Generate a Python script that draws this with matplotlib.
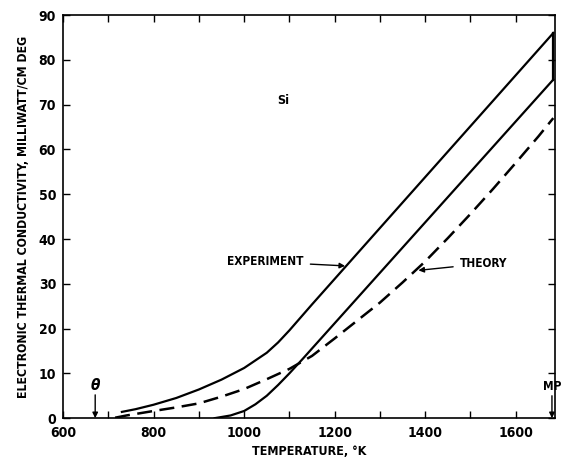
import numpy as np
import matplotlib.pyplot as plt

# Si electronic thermal conductivity (milliwatt/cm deg) vs temperature (K)
exp_upper_T = [730, 760, 800, 850, 900, 950, 1000, 1050, 1075, 1100, 1125, 1150, 1683]
exp_upper_k = [1.4, 2.0, 3.0, 4.5, 6.4, 8.6, 11.2, 14.6, 16.9, 19.6, 22.5, 25.4, 86.0]

exp_lower_T = [935, 970, 1000, 1025, 1050, 1075, 1100, 1130, 1683]
exp_lower_k = [0.0, 0.6, 1.6, 3.1, 5.0, 7.4, 10.0, 13.3, 75.6]

theory_T = [715, 740, 800, 850, 900, 950, 1000, 1050, 1100, 1150, 1200, 1250,
            1300, 1350, 1400, 1450, 1500, 1550, 1600, 1650, 1683]
theory_k = [0.1, 0.6, 1.6, 2.4, 3.3, 4.8, 6.5, 8.7, 11.0, 13.9, 17.8, 21.8,
            25.8, 30.3, 35.0, 40.2, 45.6, 51.2, 57.0, 62.9, 67.0]

theta_T = 671
mp_T = 1680

plt.rcParams['font.family'] = ['DejaVu Sans']
plt.rcParams['font.stretch'] = 'condensed'
plt.rcParams['font.weight'] = 'bold'

fig = plt.figure(figsize=(5.63, 4.57), dpi=100)
ax = fig.add_axes([0.112, 0.085, 0.874, 0.882])

ax.plot(exp_upper_T, exp_upper_k, color='black', lw=1.6)
ax.plot(exp_lower_T, exp_lower_k, color='black', lw=1.6)
ax.plot([exp_upper_T[-1], exp_lower_T[-1]], [exp_upper_k[-1], exp_lower_k[-1]],
        color='black', lw=1.6)
ax.plot(theory_T, theory_k, color='black', lw=1.8, dashes=(6, 3))

ax.set_xlim(600, 1687)
ax.set_ylim(0, 90)
ax.set_xticks(range(600, 1700, 200))
ax.set_xticks(range(700, 1700, 200), minor=True)
ax.set_yticks(range(0, 100, 10))
ax.tick_params(which='both', direction='in', top=True, right=True,
               length=5, width=1, labelsize=10)
ax.tick_params(axis='x', pad=6)
ax.tick_params(axis='y', pad=5)
for lab in ax.get_xticklabels() + ax.get_yticklabels():
    lab.set_fontweight('bold')
for s in ax.spines.values():
    s.set_linewidth(1.2)

ax.set_xlabel('TEMPERATURE, °K', fontsize=9, fontweight='bold', labelpad=3)
ax.set_ylabel('ELECTRONIC THERMAL CONDUCTIVITY, MILLIWATT/CM DEG',
              fontsize=8.8, fontweight='bold', labelpad=6)

ax.text(1086, 71, 'Si', fontsize=9, fontweight='bold', ha='center', va='center')

ax.annotate('EXPERIMENT', xy=(1223, 34.0), xytext=(962, 34.9),
            fontsize=8.5, fontweight='bold', va='center', ha='left',
            arrowprops=dict(arrowstyle='-|>', color='black', lw=1,
                            shrinkA=3, shrinkB=0, mutation_scale=8))
ax.annotate('THEORY', xy=(1385, 33.0), xytext=(1477, 34.5),
            fontsize=8.5, fontweight='bold', va='center', ha='left',
            arrowprops=dict(arrowstyle='-|>', color='black', lw=1,
                            shrinkA=3, shrinkB=0, mutation_scale=8))

ax.annotate('', xy=(theta_T, 0), xytext=(theta_T, 5.2),
            arrowprops=dict(arrowstyle='-|>', color='black', lw=1,
                            shrinkA=0, shrinkB=0, mutation_scale=8))
ax.text(theta_T, 7.3, r'$\theta$', fontsize=11, ha='center', va='center')

ax.annotate('', xy=(mp_T, 0), xytext=(mp_T, 5.0),
            arrowprops=dict(arrowstyle='-|>', color='black', lw=1,
                            shrinkA=0, shrinkB=0, mutation_scale=8))
ax.text(mp_T, 7.0, 'MP', fontsize=8.5, fontweight='bold', ha='center', va='center')

fig.savefig('out.png', dpi=100)
